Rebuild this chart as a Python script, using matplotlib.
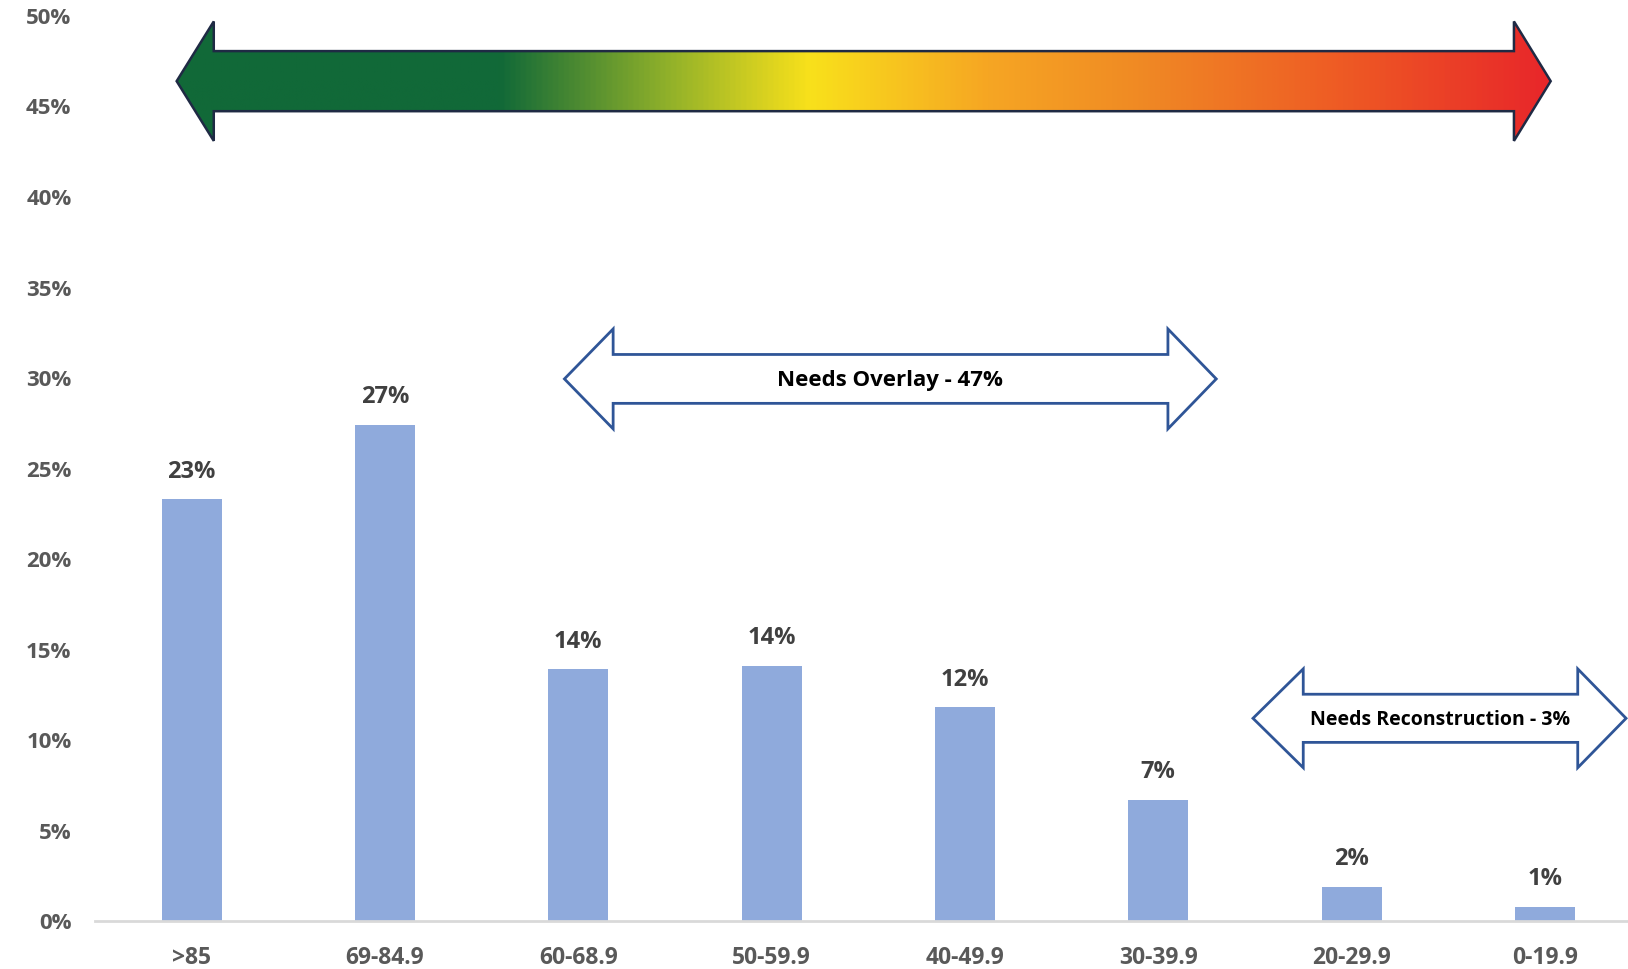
import numpy as np
import matplotlib
matplotlib.use('Agg')
import matplotlib.pyplot as plt
from matplotlib.patches import Polygon
from matplotlib.colors import LinearSegmentedColormap

# data
categories = ['>85', '69-84.9', '60-68.9', '50-59.9', '40-49.9', '30-39.9', '20-29.9', '0-19.9']
values = [23.3, 27.4, 13.9, 14.1, 11.8, 6.7, 1.9, 0.8]
labels = ['23%', '27%', '14%', '14%', '12%', '7%', '2%', '1%']
yticks = [0, 5, 10, 15, 20, 25, 30, 35, 40, 45, 50]

plt.rcParams['font.family'] = ['Open Sans', 'DejaVu Sans']

BAR = '#8faadc'
TICK = '#595959'


def double_arrow(x0, x1, xh0, xh1, yc, shaft, head):
    # tip-left, head base, shaft..., tip-right
    return [(x0, yc), (xh0, yc + head), (xh0, yc + shaft), (xh1, yc + shaft),
            (xh1, yc + head), (x1, yc), (xh1, yc - head), (xh1, yc - shaft),
            (xh0, yc - shaft), (xh0, yc - head)]


fig = plt.figure(figsize=(16.28, 9.69), dpi=100)
ax = fig.add_axes([0.0584, 0.0495, 0.9416, 0.934])

x = np.arange(len(categories))
bars = ax.bar(x, values, width=0.31, color=BAR, zorder=2)
for xi, v, lab in zip(x, values, labels):
    ax.annotate(lab, (xi, v), xytext=(0, 20), textcoords='offset points',
                ha='center', va='center', fontsize=17, fontweight='bold', color='#404040')

ax.set_xlim(-0.5, 7.43)
ax.set_ylim(0, 50)
ax.set_yticks(yticks)
ax.set_yticklabels([f'{t}%' for t in yticks])
ax.set_xticks(x)
ax.set_xticklabels(categories)
ax.tick_params(axis='y', length=0, labelsize=16, labelcolor=TICK, pad=17)
ax.tick_params(axis='x', length=0, labelsize=16.5, labelcolor=TICK, pad=18)
for lab in ax.get_xticklabels() + ax.get_yticklabels():
    lab.set_fontweight('bold')
for s in ['top', 'right', 'left']:
    ax.spines[s].set_visible(False)
ax.spines['bottom'].set_color('#d9d9d9')
ax.spines['bottom'].set_linewidth(2)

# big gradient arrow
pts = double_arrow(-0.078, 7.03, 0.114, 6.84, 46.4, 1.66, 3.3)
grad = LinearSegmentedColormap.from_list('g', [
    (0.0, '#116938'), (0.234, '#116938'), (0.355, '#8fb02a'), (0.46, '#f9e11b'),
    (0.59, '#f6a623'), (0.70, '#f08a24'), (0.85, '#ee5a24'), (1.0, '#e8262a')])
img = ax.imshow(np.linspace(0, 1, 512).reshape(1, -1), cmap=grad, aspect='auto',
                extent=[-0.078, 7.03, 46.4 - 3.3, 46.4 + 3.3], zorder=3)
clip = Polygon(pts, closed=True, transform=ax.transData, facecolor='none')
img.set_clip_path(clip)
ax.add_patch(Polygon(pts, closed=True, facecolor='none', edgecolor='#1f2a44',
                     linewidth=1.8, zorder=4, joinstyle='miter'))

# outlined arrows
overlay = double_arrow(1.928, 5.30, 2.18, 5.05, 29.95, 1.35, 2.76)
ax.add_patch(Polygon(overlay, closed=True, facecolor='white', edgecolor='#2f5597',
                     linewidth=2, zorder=4, joinstyle='miter'))
ax.text(3.61, 29.85, 'Needs Overlay - 47%', ha='center', va='center', fontsize=16,
        fontweight='bold', color='black', zorder=5)

recon = double_arrow(5.49, 7.42, 5.75, 7.17, 11.2, 1.33, 2.73)
ax.add_patch(Polygon(recon, closed=True, facecolor='white', edgecolor='#2f5597',
                     linewidth=2, zorder=4, joinstyle='miter', clip_on=False))
ax.text(6.46, 11.1, 'Needs Reconstruction - 3%', ha='center', va='center', fontsize=14,
        fontweight='bold', color='black', zorder=5)

ax.set_xlim(-0.5, 7.43)
ax.set_ylim(0, 50)

fig.savefig('out.png', dpi=100)
